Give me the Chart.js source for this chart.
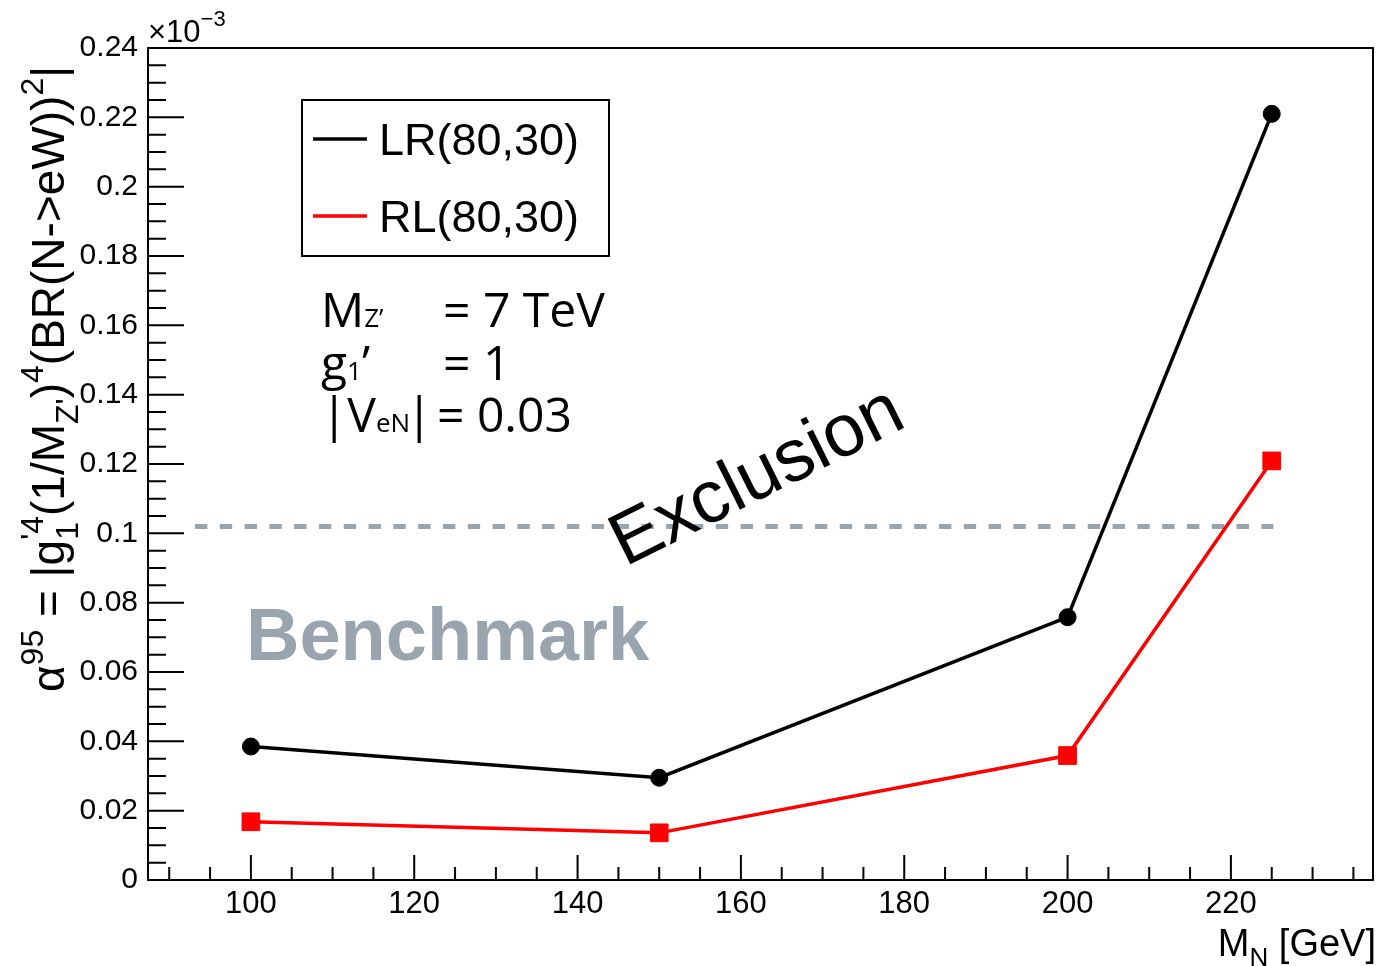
<!DOCTYPE html>
<html>
<head>
<meta charset="utf-8">
<title>alpha95 limits vs M_N</title>
<script src="https://cdn.jsdelivr.net/npm/chart.js@4"></script>
<style>
  html, body { margin: 0; padding: 0; background: #fff; }
  #wrap { width: 1379px; height: 966px; position: relative; }
</style>
</head>
<body>
<div id="wrap"><canvas id="limitChart"></canvas></div>
<script>
// heavy neutrino mass points [GeV]
const massPoints = [100, 150, 200, 225];
// alpha^95 limits (units of 1e-3)
const lrValues = [0.0385, 0.0295, 0.0758, 0.2210];
const rlValues = [0.0168, 0.0136, 0.0359, 0.1209];
// benchmark level, drawn dashed across the plot
const benchmarkRange = [93.15, 225.2];
const benchmarkValue = 0.102;

const xRange = [87.4, 237.4];
const yRange = [0, 0.24];
const xTickValues = [100, 120, 140, 160, 180, 200, 220];
const xTickLabels = ['100', '120', '140', '160', '180', '200', '220'];
const yTickValues = [0, 0.02, 0.04, 0.06, 0.08, 0.1, 0.12, 0.14, 0.16, 0.18, 0.2, 0.22, 0.24];
const yTickLabels = ['0', '0.02', '0.04', '0.06', '0.08', '0.1', '0.12', '0.14', '0.16', '0.18', '0.2', '0.22', '0.24'];
const xMinorStep = 5;
const yMinorStep = 0.005;

const FONT = "'Liberation Sans', Arial, Helvetica, sans-serif";
const THIN = "'Open Sans', 'Liberation Sans', sans-serif";
const GREY = '#9aa4ae';

// draws a run of text pieces along one baseline (for sub/superscripts)
function drawRich(ctx, x, y, parts, measureOnly) {
  let cx = x;
  for (const p of parts) {
    ctx.font = (p.weight || 'normal') + ' ' + p.size + 'px ' + (p.family || FONT);
    const w = ctx.measureText(p.t).width;
    if (!measureOnly) ctx.fillText(p.t, p.at !== undefined ? p.at : cx, y + (p.dy || 0));
    if (p.at !== undefined) cx = p.at;
    if (!p.keep) cx += w;
  }
  return cx - x;
}

const rootStyle = {
  id: 'rootStyle',
  afterDatasetsDraw(chart) {
    const { ctx, chartArea: a, scales: { x, y } } = chart;
    ctx.save();

    // frame
    ctx.strokeStyle = '#000';
    ctx.lineWidth = 2;
    ctx.strokeRect(a.left, a.top, a.right - a.left, a.bottom - a.top);

    // inward ticks
    ctx.lineWidth = 2;
    ctx.beginPath();
    for (let i = Math.ceil(xRange[0] / xMinorStep); i * xMinorStep <= xRange[1]; i++) {
      const v = i * xMinorStep;
      const px = x.getPixelForValue(v);
      const len = v % 20 === 0 ? 25 : 13;
      ctx.moveTo(px, a.bottom);
      ctx.lineTo(px, a.bottom - len);
    }
    for (let i = 0; i * yMinorStep <= yRange[1] + 1e-9; i++) {
      const py = y.getPixelForValue(i * yMinorStep);
      const len = i % 4 === 0 ? 36 : 18;
      ctx.moveTo(a.left, py);
      ctx.lineTo(a.left + len, py);
    }
    ctx.stroke();

    ctx.fillStyle = '#000';
    ctx.textBaseline = 'alphabetic';
    ctx.textAlign = 'left';

    // exponent above the y axis
    drawRich(ctx, a.left, 42, [
      { t: '×10', size: 31 },
      { t: '−3', size: 22, dy: -16 }
    ]);

    // y axis title
    const F = 46, s = 32;
    ctx.save();
    ctx.translate(64, 692);
    ctx.rotate(-Math.PI / 2);
    drawRich(ctx, 0, 0, [
      { t: 'α', size: F },
      { t: '95', size: s, dy: -0.45 * F },
      { t: ' = |g', size: F },
      { t: '1', size: s, dy: 0.3 * F, keep: true },
      { t: '\'4', size: s, dy: -0.45 * F },
      { t: '(1/M', size: F },
      { t: 'Z\'', size: s, dy: 0.3 * F },
      { t: ')', size: F },
      { t: '4', size: s, dy: -0.45 * F },
      { t: '(BR(N->eW))', size: F },
      { t: '2', size: s, dy: -0.45 * F },
      { t: '|', size: F }
    ]);
    ctx.restore();

    // x axis title, right aligned
    const xTitle = [
      { t: 'M', size: 38 },
      { t: 'N', size: 26, dy: 10 },
      { t: ' [GeV]', size: 38 }
    ];
    const tw = drawRich(ctx, 0, 0, xTitle, true);
    drawRich(ctx, 1376 - tw, 956, xTitle);

    // legend
    ctx.lineWidth = 2;
    ctx.strokeRect(302, 100, 307, 156);
    const rows = [139, 216];
    chart.data.datasets.slice(0, 2).forEach((ds, i) => {
      ctx.strokeStyle = ds.borderColor;
      ctx.lineWidth = 3.5;
      ctx.beginPath();
      ctx.moveTo(313, rows[i]);
      ctx.lineTo(367, rows[i]);
      ctx.stroke();
      ctx.fillStyle = '#000';
      ctx.font = '45px ' + FONT;
      ctx.fillText(ds.label, 379, rows[i] + 16);
    });

    // model parameters
    ctx.fillStyle = '#000';
    const P = 48, p = 26, W = 400;
    drawRich(ctx, 321, 327, [
      { t: 'M', size: P, family: THIN, weight: W },
      { t: 'Z\u2019', size: p, family: THIN, weight: W }
    ]);
    drawRich(ctx, 443, 327, [{ t: '= 7 TeV', size: P, family: THIN, weight: W }]);
    drawRich(ctx, 321, 380, [
      { t: 'g', size: P, family: THIN, weight: W },
      { t: '1', size: p, family: THIN, weight: W },
      { t: '\u2019', size: P, family: THIN, weight: W }
    ]);
    drawRich(ctx, 443, 380, [{ t: '= 1', size: P, family: THIN, weight: W }]);
    drawRich(ctx, 321, 432, [
      { t: '|V', size: P, family: THIN, weight: W },
      { t: 'eN', size: p, family: THIN, weight: W },
      { t: '|', size: P, family: THIN, weight: W, at: 406 },
      { t: '= 0.03', size: P, family: THIN, weight: W, at: 437 }
    ]);

    // region labels
    ctx.fillStyle = GREY;
    ctx.font = 'bold 74px ' + FONT;
    ctx.fillText('Benchmark', 246, 660);

    ctx.save();
    ctx.translate(625, 567);
    ctx.rotate(-26.5 * Math.PI / 180);
    ctx.fillStyle = '#000';
    ctx.font = '74px ' + FONT;
    ctx.fillText('Exclusion', 0, 0);
    ctx.restore();

    ctx.restore();
  }
};

const toPoints = (xs, ys) => xs.map((m, i) => ({ x: m, y: ys[i] }));

new Chart(document.getElementById('limitChart'), {
  type: 'line',
  data: {
    datasets: [
      {
        label: 'LR(80,30)',
        data: toPoints(massPoints, lrValues),
        borderColor: '#000000',
        backgroundColor: '#000000',
        borderWidth: 3.5,
        pointStyle: 'circle',
        pointRadius: 8.5,
        pointBorderWidth: 1,
        pointHoverRadius: 8.5
      },
      {
        label: 'RL(80,30)',
        data: toPoints(massPoints, rlValues),
        borderColor: '#ff0000',
        backgroundColor: '#ff0000',
        borderWidth: 3.5,
        pointStyle: 'rect',
        pointRadius: 12.5,
        pointBorderWidth: 1,
        pointHoverRadius: 12.5
      },
      {
        label: 'Benchmark',
        data: benchmarkRange.map(v => ({ x: v, y: benchmarkValue })),
        borderColor: GREY,
        borderWidth: 5,
        borderDash: [12.4, 12.4],
        pointRadius: 0
      }
    ]
  },
  options: {
    responsive: true,
    maintainAspectRatio: false,
    animation: false,
    layout: { autoPadding: false, padding: { top: 48, right: 6, left: 0, bottom: 0 } },
    plugins: {
      legend: { display: false },
      tooltip: { enabled: false }
    },
    scales: {
      x: {
        type: 'linear',
        min: xRange[0],
        max: xRange[1],
        afterFit: s => { s.height = 86; },
        afterBuildTicks: s => { s.ticks = xTickValues.map(v => ({ value: v })); },
        ticks: {
          callback: (v, i) => xTickLabels[i],
          font: { family: FONT, size: 31 },
          color: '#000',
          padding: 6,
          maxRotation: 0,
          autoSkip: false
        },
        grid: { display: false, drawTicks: false },
        border: { display: false }
      },
      y: {
        min: yRange[0],
        max: yRange[1],
        afterFit: s => { s.width = 148; },
        afterBuildTicks: s => { s.ticks = yTickValues.map(v => ({ value: v })); },
        ticks: {
          callback: (v, i) => yTickLabels[i],
          font: { family: FONT, size: 30 },
          color: '#000',
          padding: 10,
          autoSkip: false
        },
        grid: { display: false, drawTicks: false },
        border: { display: false }
      }
    }
  },
  plugins: [rootStyle]
});
</script>
</body>
</html>
